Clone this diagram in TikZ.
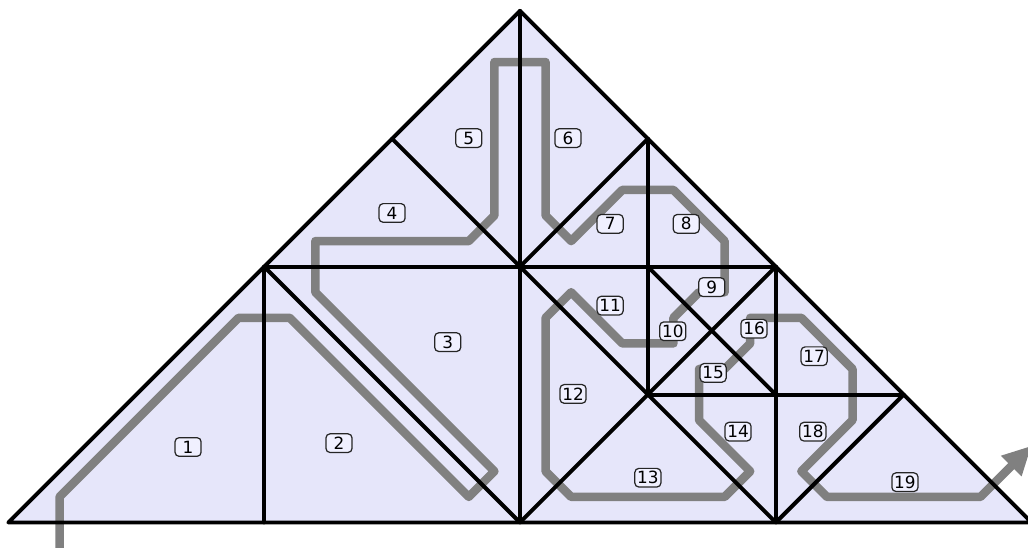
\documentclass[tikz,border=0pt]{standalone}
\usepackage{fontspec}
\setmainfont{DejaVu Sans}
\usetikzlibrary{arrows.meta}
\definecolor{fillc}{RGB}{230,230,250}
\definecolor{pathc}{RGB}{128,128,128}
\definecolor{lblc}{RGB}{240,240,255}
\begin{document}
\begin{tikzpicture}[x=1cm,y=1cm,
  edge/.style={line width=1.75pt, line cap=round, line join=round},
  route/.style={draw=pathc, line width=3.8pt, line join=round},
  lbl/.style={draw=black!85, fill=lblc, rounded corners=1.8pt, line width=0.55pt,
    minimum width=11.6pt, minimum height=8.3pt, inner sep=0pt,
    font=\fontsize{7.5}{8}\selectfont}]
\useasboundingbox (-8.131,-0.399) rectangle (7.944,8.170);
\clip (-8.131,-0.399) rectangle (7.944,8.170);
% triangle body
\fill[fillc] (-8,0) -- (0,8) -- (8,0) -- cycle;
% route
\draw[route,-{Triangle[length=12.8pt,width=12pt]}]
  (-7.2,-0.5) -- (-7.2,0.4) -- (-4.4,3.2) -- (-3.6,3.2) -- (-0.8,0.4) -- (-0.4,0.8)
  -- (-3.2,3.6) -- (-3.2,4.4) -- (-0.8,4.4) -- (-0.4,4.8) -- (-0.4,7.2) -- (0.4,7.2)
  -- (0.4,4.8) -- (0.8,4.4) -- (1.6,5.2) -- (2.4,5.2) -- (3.2,4.4) -- (3.2,3.6)
  -- (2.8,3.6) -- (2.4,3.2) -- (2.4,2.8) -- (1.6,2.8) -- (0.8,3.6) -- (0.4,3.2)
  -- (0.4,0.8) -- (0.8,0.4) -- (3.2,0.4) -- (3.6,0.8) -- (2.8,1.6) -- (2.8,2.4)
  -- (3.2,2.4) -- (3.6,2.8) -- (3.6,3.2) -- (4.4,3.2) -- (5.2,2.4) -- (5.2,1.6)
  -- (4.4,0.8) -- (4.8,0.4) -- (7.2,0.4) -- (8.0,1.2);
% lines
\draw[edge] (-8,0) -- (0,8) -- (8,0) -- cycle;
\draw[edge] (0,0) -- (0,8);
\draw[edge] (-4,0) -- (-4,4);
\draw[edge] (-4,4) -- (4,4);
\draw[edge] (-4,4) -- (0,0);
\draw[edge] (-2,6) -- (0,4) -- (2,6);
\draw[edge] (2,6) -- (2,2);
\draw[edge] (0,4) -- (2,2) -- (0,0);
\draw[edge] (2,2) -- (4,0);
\draw[edge] (2,4) -- (4,2);
\draw[edge] (2,2) -- (4,4);
\draw[edge] (4,4) -- (4,0);
\draw[edge] (2,2) -- (6,2);
\draw[edge] (6,2) -- (4,0);
% labels
\node[lbl] (r1) at (-5.19,1.18) {1};
\node[lbl] (r2) at (-2.83,1.24) {2};
\node[lbl] (r3) at (-1.13,2.82) {3};
\node[lbl] (r4) at (-2.00,4.84) {4};
\node[lbl] (r5) at (-0.80,6.01) {5};
\node[lbl] (r6) at (0.75,6.01) {6};
\node[lbl] (r7) at (1.41,4.67) {7};
\node[lbl] (r8) at (2.60,4.67) {8};
\node[lbl] (r9) at (3.00,3.68) {9};
\node[lbl] (r10) at (2.39,2.99) {10};
\node[lbl] (r11) at (1.41,3.39) {11};
\node[lbl] (r12) at (0.83,2.01) {12};
\node[lbl] (r13) at (2.00,0.70) {13};
\node[lbl] (r14) at (3.41,1.42) {14};
\node[lbl] (r15) at (3.02,2.34) {15};
\node[lbl] (r16) at (3.66,3.03) {16};
\node[lbl] (r17) at (4.60,2.60) {17};
\node[lbl] (r18) at (4.58,1.42) {18};
\node[lbl] (r19) at (6.02,0.63) {19};
\end{tikzpicture}
\end{document}
